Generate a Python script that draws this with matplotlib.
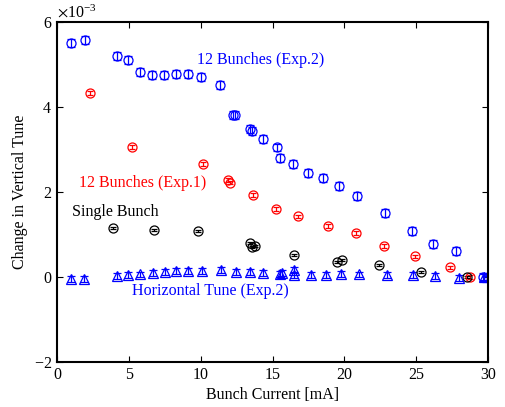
import matplotlib.pyplot as plt
import numpy as np

# values in units of 1e-3
exp2_x = [0.97, 1.95, 4.18, 4.94, 5.78, 6.61, 7.45, 8.28, 9.12, 10.02, 11.34, 12.25, 12.39,
          13.43, 13.57, 14.34, 15.28, 15.52, 16.42, 17.47, 18.51, 19.62, 20.88, 22.83,
          24.70, 26.17, 27.77, 29.65]
exp2_y = [5.51, 5.58, 5.20, 5.11, 4.82, 4.75, 4.75, 4.78, 4.78, 4.71, 4.52, 3.81, 3.81,
          3.48, 3.44, 3.25, 3.05, 2.80, 2.66, 2.45, 2.33, 2.14, 1.91, 1.51,
          1.08, 0.78, 0.61, 0.0]

exp1_x = [2.30, 5.22, 10.16, 11.90, 12.04, 13.64, 15.24, 16.77, 18.86, 20.81, 22.76,
          24.91, 27.35, 28.74]
exp1_y = [4.33, 3.06, 2.66, 2.28, 2.22, 1.93, 1.60, 1.43, 1.20, 1.04, 0.73,
          0.49, 0.23, 0.0]

single_x = [3.90, 6.75, 9.81, 13.43, 13.57, 13.78, 16.49, 19.48, 19.83, 22.41, 25.33, 28.53]
single_y = [1.15, 1.11, 1.08, 0.80, 0.71, 0.73, 0.52, 0.35, 0.40, 0.28, 0.12, 0.0]

horiz_x = [0.97, 1.88, 4.18, 4.94, 5.78, 6.68, 7.52, 8.28, 9.12, 10.09, 11.41, 12.46,
           13.43, 14.34, 15.52, 15.66, 16.49, 16.49, 17.68, 18.72, 19.76, 21.0, 22.97,
           24.77, 26.3, 27.97, 29.7, 29.9]
horiz_y = [-0.05, -0.05, 0.03, 0.04, 0.06, 0.09, 0.12, 0.15, 0.14, 0.15, 0.17, 0.12,
           0.12, 0.10, 0.08, 0.10, 0.17, 0.05, 0.05, 0.05, 0.08, 0.06, 0.05,
           0.05, 0.02, -0.02, 0.0, 0.0]

plt.rcParams['font.family'] = ['Liberation Serif', 'DejaVu Serif']
plt.rcParams['font.size'] = 11.5
plt.rcParams['mathtext.fontset'] = 'stix'

fig = plt.figure(figsize=(5.06, 4.07), dpi=100)
ax = fig.add_axes([0.1126, 0.1106, 0.852, 0.835])

def scaled(v):
    return np.array(v) * 1e-3

ax.errorbar(exp2_x, scaled(exp2_y), yerr=0.09e-3, fmt='o', ms=6.5, mfc='none',
            mec='b', ecolor='b', mew=0.9, elinewidth=0.9, capsize=3, capthick=0.9)
ax.errorbar(exp1_x, scaled(exp1_y), yerr=0.04e-3, fmt='o', ms=6.5, mfc='none',
            mec='r', ecolor='r', mew=0.9, elinewidth=0.9, capsize=2.5, capthick=0.9)
ax.errorbar(single_x, scaled(single_y), yerr=0.02e-3, fmt='o', ms=6.5, mfc='none',
            mec='k', ecolor='k', mew=0.9, elinewidth=0.9, capsize=2.5, capthick=0.9)
ax.errorbar(horiz_x, scaled(horiz_y), yerr=0.07e-3, fmt='^', ms=6.5, mfc='none',
            mec='b', ecolor='b', mew=0.9, elinewidth=0.9, capsize=3, capthick=0.9)

ax.text(9.74, 5.1e-3, '12 Bunches (Exp.2)', color='b', va='center')
ax.text(1.53, 2.21e-3, '12 Bunches (Exp.1)', color='r', va='center')
ax.text(1.04, 1.53e-3, 'Single Bunch', color='k', va='center')
ax.text(5.22, -0.33e-3, 'Horizontal Tune (Exp.2)', color='b', va='center')

ax.set_xlim(0, 30)
ax.set_ylim(-2e-3, 6e-3)
ax.set_xticks([0, 5, 10, 15, 20, 25, 30])
ax.set_yticks(scaled([-2, 0, 2, 4, 6]))
ax.ticklabel_format(axis='y', style='sci', scilimits=(0, 0), useMathText=True)
ax.tick_params(direction='in', top=True, right=True, length=4.5, width=0.8)
for s in ax.spines.values():
    s.set_linewidth(1.5)

ax.set_xlabel('Bunch Current [mA]', labelpad=3)
ax.set_ylabel('Change in Vertical Tune')

fig.savefig('out.png', dpi=100)
